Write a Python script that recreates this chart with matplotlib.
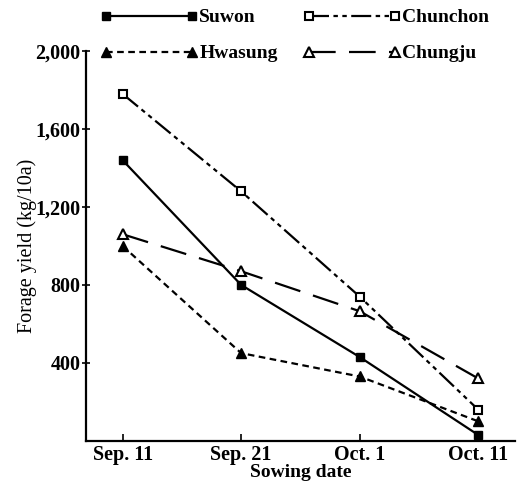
import numpy as np
import matplotlib
matplotlib.use("Agg")
import matplotlib.pyplot as plt
from matplotlib.ticker import FuncFormatter

plt.rcParams['font.family'] = ['Liberation Serif', 'DejaVu Serif']

# Data (forage yield, kg/10a)
dates = ["Sep. 11", "Sep. 21", "Oct. 1", "Oct. 11"]
suwon = [1440, 800, 430, 30]
chunchon = [1780, 1280, 740, 160]
hwasung = [1000, 450, 330, 100]
chungju = [1060, 870, 665, 320]

x = np.arange(len(dates))

fig = plt.figure(figsize=(5.17, 4.86), dpi=100)
ax = fig.add_axes([0.166, 0.093, 0.83, 0.802])

l1, = ax.plot(x, suwon, color="black", lw=1.6, ls="-", marker="s", ms=6,
              mfc="black", mec="black", label="Suwon")
l2, = ax.plot(x, chunchon, color="black", lw=1.6, ls=(0, (9, 2, 2, 2, 2, 2)),
              marker="s", ms=6, mfc="white", mec="black", mew=1.5, label="Chunchon")
l3, = ax.plot(x, hwasung, color="black", lw=1.6, ls=(0, (3, 2)), marker="^", ms=7,
              mfc="black", mec="black", label="Hwasung")
l4, = ax.plot(x, chungju, color="black", lw=1.6, ls=(0, (12, 6)), marker="^", ms=7,
              mfc="white", mec="black", mew=1.5, label="Chungju")

ax.set_xlim(-0.31, 3.31)
ax.set_ylim(0, 2000)
ax.set_xticks(x)
ax.set_xticklabels(dates, fontweight="bold", fontsize=14.5)
ax.set_yticks([400, 800, 1200, 1600, 2000])
ax.yaxis.set_major_formatter(FuncFormatter(lambda v, p: f"{int(v):,}"))
for t in ax.get_yticklabels():
    t.set_fontweight("bold")
    t.set_fontsize(14.5)

ax.spines["top"].set_visible(False)
ax.spines["right"].set_visible(False)
ax.spines["left"].set_linewidth(1.6)
ax.spines["bottom"].set_linewidth(1.6)
ax.tick_params(axis="x", direction="in", length=5, width=1.2, pad=3)
ax.tick_params(axis="y", direction="inout", length=6, width=1.2, pad=1)

ax.set_xlabel("Sowing date", fontsize=14, fontweight="bold", labelpad=-1)
ax.set_ylabel("Forage yield (kg/10a)", fontsize=14.5, labelpad=-1)

fig.legend(handles=[l1, l3, l2, l4], loc="upper left", bbox_to_anchor=(0.16, 1.018),
           ncol=2, frameon=False, numpoints=2, handlelength=5.0, handletextpad=0.1,
           columnspacing=1.3, labelspacing=0.95,
           prop={"family": "Liberation Serif", "weight": "bold", "size": 14})

fig.savefig("out.png", dpi=100)
